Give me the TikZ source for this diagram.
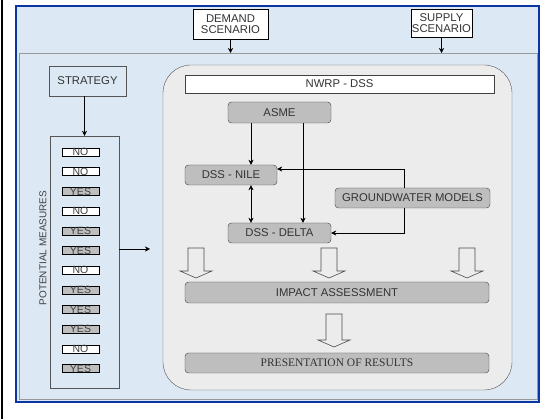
\documentclass[tikz,border=0pt]{standalone}
\usepackage{fontspec}
\setmainfont{Liberation Sans}
\newfontfamily\timesfont{Liberation Serif}
\usetikzlibrary{arrows.meta}
\definecolor{bgblue}{HTML}{DCE8F4}
\definecolor{frameblue}{HTML}{0B35A0}
\definecolor{panelgray}{HTML}{ECECEC}
\definecolor{boxgray}{HTML}{BEBEBE}
\definecolor{edgegray}{HTML}{555555}

\newcommand{\blockarrow}[2]{\draw[hollow] ([xshift=-8pt]#1) -- ++(0,#2-7) -- ++(-8,0) -- ++(16,7) -- ++(16,-7) -- ++(-8,0) -- ++(0,7-#2) -- cycle;}

\begin{document}
\begin{tikzpicture}[x=1pt,y=-1pt,
  font=\fontsize{11.3}{11.5}\selectfont,
  sarrow/.style={-{Stealth[length=\l, width=\w]}},
  darrow/.style={{Stealth[length=\l, width=\w]}-{Stealth[length=\l, width=\w]}},
  scen/.style={draw=black,fill=white,align=center,inner sep=1pt,text=black!80},
  plainbox/.style={draw=edgegray,align=center,text=black!80},
  gbox/.style={draw=black!75,fill=boxgray,rounded corners=3.5pt,text=black!80,inner sep=0pt},
  yesno/.style={draw=black,inner sep=0pt,minimum width=37pt,minimum height=8pt,font=\fontsize{10.5}{10}\selectfont,text=black!75},
  hollow/.style={draw=black!70,fill=panelgray,line width=0.6pt}]
\def\l{5pt}
\def\w{5pt}

\useasboundingbox (0,0) rectangle (544,419);
% frame and panel
\fill[bgblue] (16,6) rectangle (539,402);
\draw[frameblue,line width=2.5pt] (16,6) rectangle (539,402);
\draw[black,line width=1.5pt] (2,0) -- (2,419);
\draw[gray!80] (19,53) rectangle (537,399);
\coordinate (ptop) at (0,53);

% scenarios
\node[scen,minimum width=75pt,minimum height=30pt] (demand) at (230.5,24) {DEMAND\\SCENARIO};
\node[scen,minimum width=61pt,minimum height=28pt] (supply) at (441.5,23) {SUPPLY\\SCENARIO};
\draw[sarrow] (demand.south) -- (demand.south |- ptop);
\draw[sarrow] (supply.south) -- (supply.south |- ptop);

% strategy and measures
\node[plainbox,minimum width=77pt,minimum height=30pt] (strategy) at (87.5,81) {STRATEGY};
\node[plainbox,minimum width=69pt,minimum height=252pt] (measures) at (84.5,262) {};
\draw[sarrow] (strategy.south -| measures.north) -- (measures.north);
\foreach \v/\c [count=\i from 0] in {NO/white,NO/white,YES/boxgray,NO/white,YES/boxgray,YES/boxgray,
    NO/white,YES/boxgray,YES/boxgray,YES/boxgray,NO/white,YES/boxgray}
  \node[yesno,fill=\c] (m\i) at (80.5,152+19.7*\i) {\v};
\node[rotate=90,text=black!75,font=\fontsize{10}{10}\selectfont] (pmlabel) at (43,248) {POTENTIAL MEASURES};
\coordinate (into) at (150,249);
\draw[sarrow] (measures.east |- into) -- (into);

% decision support system
\node[draw=edgegray,fill=panelgray,rounded corners=28pt,minimum width=349pt,minimum height=325pt] (dss) at (337.5,227.5) {};
\node[draw=black!75,fill=white,minimum width=309pt,minimum height=18pt,inner sep=0pt,text=black!80] (nwrp) at (339.5,84) {NWRP - DSS};
\node[gbox,minimum width=103pt,minimum height=21pt] (asme) at (279.5,112.5) {ASME};
\node[gbox,minimum width=92pt,minimum height=20pt] (nile) at (231,175) {DSS - NILE};
\node[gbox,minimum width=103pt,minimum height=20pt] (delta) at (279.5,233) {DSS - DELTA};
\node[gbox,minimum width=155pt,minimum height=20pt] (gw) at (412.5,198) {GROUNDWATER MODELS};
\node[gbox,minimum width=304pt,minimum height=21pt] (impact) at (337,292.5) {IMPACT ASSESSMENT};
\node[gbox,minimum width=304pt,minimum height=20pt,font=\timesfont\fontsize{11.5}{12}\selectfont] (results) at (337,363) {PRESENTATION OF RESULTS};

\coordinate (xa) at (251,0);
\coordinate (xb) at (303,0);
\coordinate (xg) at (404,0);
\coordinate (yn) at (0,169);
\draw[sarrow] (asme.south -| xa) -- (nile.north -| xa);
\draw[sarrow] (asme.south -| xb) -- (delta.north -| xb);
\draw[darrow] (nile.south -| xa) -- (delta.north -| xa);
\draw[sarrow] (gw.north -| xg) |- (nile.east |- yn);
\draw[sarrow] (gw.south -| xg) |- (delta.east);

% hollow arrows
\coordinate (h1) at (196,248);
\coordinate (h2) at (329,248);
\coordinate (h3) at (467,248);
\coordinate (h4) at (334,314);
\blockarrow{h1}{30}
\blockarrow{h2}{30}
\blockarrow{h3}{30}
\blockarrow{h4}{33}
\end{tikzpicture}
\end{document}
